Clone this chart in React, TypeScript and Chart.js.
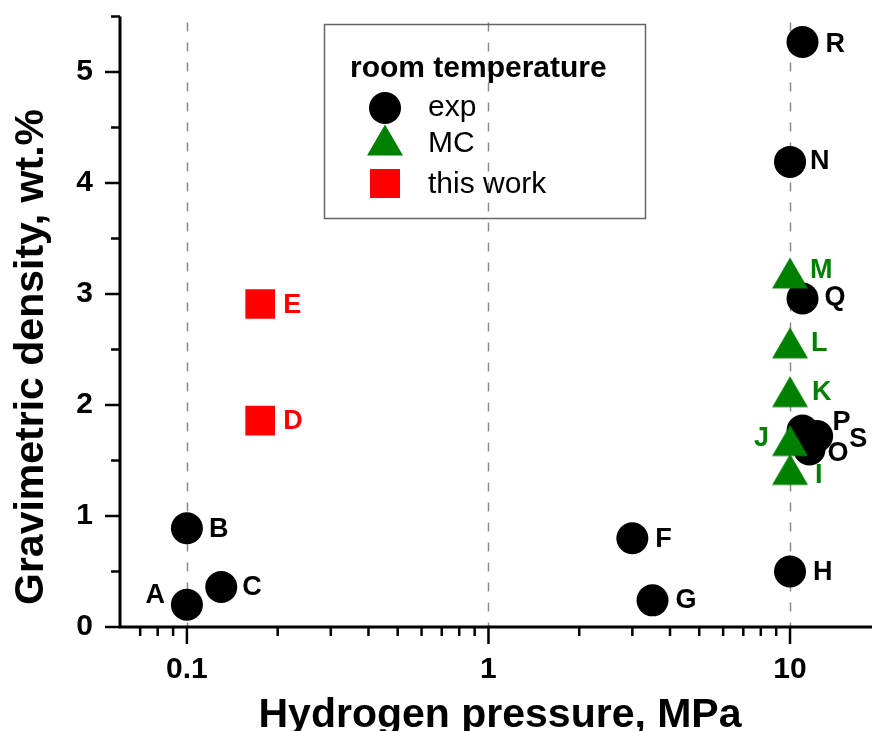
import React, { useEffect, useRef } from 'react';
import { Chart, registerables } from 'chart.js';

Chart.register(...registerables);

// Experimental reports (black circles)
const expNames = ['A', 'B', 'C', 'F', 'G', 'H', 'N', 'R', 'Q', 'P', 'S', 'O'];
const expPressure = [0.1, 0.1, 0.13, 3.0, 3.5, 10, 10, 11, 11, 11, 12.3, 11.6];
const expDensity = [0.2, 0.89, 0.36, 0.8, 0.24, 0.5, 4.19, 5.27, 2.96, 1.77, 1.72, 1.6];

// Monte Carlo simulations (green triangles)
const mcNames = ['I', 'J', 'K', 'L', 'M'];
const mcPressure = [10, 10, 10, 10, 10];
const mcDensity = [1.42, 1.68, 2.12, 2.56, 3.19];

// This work (red squares)
const workNames = ['D', 'E'];
const workPressure = [0.175, 0.175];
const workDensity = [1.86, 2.91];

// Axis ticks
const xTickValues = [0.1, 1, 10];
const xMinorValues = [0.07, 0.08, 0.09, 0.2, 0.3, 0.4, 0.5, 0.6, 0.7, 0.8, 0.9, 2, 3, 4, 5, 6, 7, 8, 9];
const yTickValues = [0, 1, 2, 3, 4, 5];
const yMinorValues = [0.5, 1.5, 2.5, 3.5, 4.5, 5.5];

const legendTitle = 'room temperature';
const legendLabels = ['exp', 'MC', 'this work'];
const xTitle = 'Hydrogen pressure, MPa';
const yTitle = 'Gravimetric density, wt.%';

const GREEN = '#008000';
const RED = '#ff0000';
const FONT = 'Arial, "Liberation Sans", sans-serif';

// Letter placement next to each marker: [dx, dy, align]
const labelPlacement: Record<string, [number, number, CanvasTextAlign]> = {
  A: [-22, -9, 'right'], B: [22, 1, 'left'], C: [21, 1, 'left'], F: [23, 1, 'left'],
  G: [23, 0, 'left'], H: [23, 1, 'left'], N: [20, 0, 'left'], R: [23, 3, 'left'],
  Q: [22, -1, 'left'], P: [30, -8, 'left'], S: [32, 3, 'left'], O: [18, 4, 'left'],
  M: [20, -2, 'left'], L: [21, 1, 'left'], K: [22, 1, 'left'], J: [-21, -2, 'right'],
  I: [25, 6, 'left'], D: [23, 1, 'left'], E: [23, 2, 'left'],
};

function makeTriangle(): HTMLCanvasElement {
  const c = document.createElement('canvas');
  c.width = 38;
  c.height = 34;
  const g = c.getContext('2d')!;
  g.fillStyle = GREEN;
  g.beginPath();
  g.moveTo(1, 32.5);
  g.lineTo(37, 32.5);
  g.lineTo(19, 1.5);
  g.closePath();
  g.fill();
  return c;
}

const noPadding = (s: any) => {
  s.paddingTop = 0;
  s.paddingBottom = 0;
  s.paddingLeft = 0;
  s.paddingRight = 0;
};

export default function App() {
  const canvasRef = useRef<HTMLCanvasElement | null>(null);

  useEffect(() => {
    const canvas = canvasRef.current;
    if (!canvas) return;
    const triangle = makeTriangle();

    const decor = {
      id: 'decor',
      beforeDatasetsDraw(chart: any) {
        const { ctx, chartArea, scales } = chart;
        ctx.save();
        ctx.strokeStyle = '#8a8a8a';
        ctx.lineWidth = 1.5;
        ctx.setLineDash([9, 11]);
        for (const v of xTickValues) {
          const px = Math.round(scales.x.getPixelForValue(v)) + 0.5;
          ctx.beginPath();
          ctx.moveTo(px, chartArea.top + 6);
          ctx.lineTo(px, chartArea.bottom);
          ctx.stroke();
        }
        ctx.restore();
      },
      afterDatasetsDraw(chart: any) {
        const { ctx, chartArea, scales } = chart;
        const xs = scales.x;
        const ys = scales.y;
        const left = chartArea.left;
        const bottom = chartArea.bottom;
        ctx.save();

        // axis lines
        ctx.strokeStyle = '#000';
        ctx.lineWidth = 3;
        ctx.beginPath();
        ctx.moveTo(left, chartArea.top);
        ctx.lineTo(left, bottom + 1.5);
        ctx.moveTo(left - 1.5, bottom);
        ctx.lineTo(chartArea.right, bottom);
        ctx.stroke();

        // ticks
        ctx.lineWidth = 2.5;
        ctx.beginPath();
        for (const v of yTickValues) {
          const py = ys.getPixelForValue(v);
          ctx.moveTo(left, py);
          ctx.lineTo(left - 15, py);
        }
        for (const v of yMinorValues) {
          const py = ys.getPixelForValue(v);
          ctx.moveTo(left, py);
          ctx.lineTo(left - 9, py);
        }
        for (const v of xTickValues) {
          const px = xs.getPixelForValue(v);
          ctx.moveTo(px, bottom);
          ctx.lineTo(px, bottom + 17);
        }
        for (const v of xMinorValues) {
          const px = xs.getPixelForValue(v);
          ctx.moveTo(px, bottom);
          ctx.lineTo(px, bottom + 9);
        }
        ctx.stroke();

        // axis titles
        ctx.fillStyle = '#000';
        ctx.font = `bold 41px ${FONT}`;
        ctx.textAlign = 'center';
        ctx.textBaseline = 'alphabetic';
        ctx.fillText(xTitle, 500, 727);
        ctx.save();
        ctx.translate(43, 357);
        ctx.rotate(-Math.PI / 2);
        ctx.fillText(yTitle, 0, 0);
        ctx.restore();

        // letters beside the markers
        ctx.font = `bold 27px ${FONT}`;
        ctx.textBaseline = 'middle';
        const groups: [string[], number[], number[], string][] = [
          [expNames, expPressure, expDensity, '#000'],
          [mcNames, mcPressure, mcDensity, GREEN],
          [workNames, workPressure, workDensity, RED],
        ];
        for (const [names, px, py, color] of groups) {
          ctx.fillStyle = color;
          names.forEach((n, i) => {
            const [dx, dy, align] = labelPlacement[n];
            ctx.textAlign = align;
            ctx.fillText(n, xs.getPixelForValue(px[i]) + dx, ys.getPixelForValue(py[i]) + dy);
          });
        }

        // legend box
        ctx.strokeStyle = '#666';
        ctx.lineWidth = 1.5;
        ctx.strokeRect(324.5, 24.5, 321, 194);
        ctx.fillStyle = '#000';
        ctx.textAlign = 'left';
        ctx.textBaseline = 'alphabetic';
        ctx.font = `bold 30px ${FONT}`;
        ctx.fillText(legendTitle, 350, 77);
        ctx.beginPath();
        ctx.arc(385, 108, 16, 0, Math.PI * 2);
        ctx.fill();
        ctx.drawImage(triangle, 385 - triangle.width / 2, 140 - triangle.height / 2);
        ctx.fillStyle = RED;
        ctx.fillRect(370, 169, 30, 29);
        ctx.fillStyle = '#000';
        ctx.font = `30px ${FONT}`;
        ctx.fillText(legendLabels[0], 428, 116);
        ctx.fillText(legendLabels[1], 428, 152);
        ctx.fillText(legendLabels[2], 428, 193);

        ctx.restore();
      },
    };

    const toPoints = (xv: number[], yv: number[]) => xv.map((x, i) => ({ x, y: yv[i] }));

    const chart = new Chart(canvas, {
      type: 'scatter',
      data: {
        datasets: [
          {
            label: legendLabels[1],
            data: toPoints(mcPressure, mcDensity),
            pointStyle: triangle as any,
            pointRadius: 18,
            backgroundColor: GREEN,
            borderWidth: 0,
          },
          {
            label: legendLabels[0],
            data: toPoints(expPressure, expDensity),
            pointStyle: 'circle',
            pointRadius: 16,
            backgroundColor: '#000',
            borderWidth: 0,
          },
          {
            label: legendLabels[2],
            data: toPoints(workPressure, workDensity),
            pointStyle: 'rect',
            pointRadius: 21,
            backgroundColor: RED,
            borderWidth: 0,
          },
        ],
      },
      options: {
        animation: false,
        responsive: false,
        events: [],
        layout: { autoPadding: false, padding: { top: 16.5, left: 0, right: 0, bottom: 0 } },
        plugins: { legend: { display: false }, tooltip: { enabled: false } },
        scales: {
          x: {
            type: 'logarithmic',
            min: 0.06,
            max: 18.7,
            grid: { display: false, drawTicks: false },
            border: { display: false },
            afterBuildTicks: (s: any) => {
              s.ticks = xTickValues.map((v) => ({ value: v, major: true }));
            },
            afterFit: (s: any) => {
              s.height = 104;
              noPadding(s);
            },
            ticks: {
              color: '#000',
              font: { family: FONT, size: 30, weight: 'bold' },
              padding: 25,
              maxRotation: 0,
              autoSkip: false,
              callback: (v: any) => String(v),
            },
          },
          y: {
            type: 'linear',
            min: 0,
            max: 5.5,
            grid: { display: false, drawTicks: false },
            border: { display: false },
            afterBuildTicks: (s: any) => {
              s.ticks = yTickValues.map((v) => ({ value: v }));
            },
            afterFit: (s: any) => {
              s.width = 120;
              noPadding(s);
            },
            ticks: {
              color: '#000',
              font: { family: FONT, size: 30, weight: 'bold' },
              padding: 27,
              callback: (v: any) => String(v),
            },
          },
        },
      },
      plugins: [decor],
    });

    return () => chart.destroy();
  }, []);

  return (
    <div style={{ position: 'absolute', left: 0, top: 0, width: 872, height: 731, background: '#fff' }}>
      <canvas ref={canvasRef} width={872} height={731} style={{ display: 'block' }} />
    </div>
  );
}
